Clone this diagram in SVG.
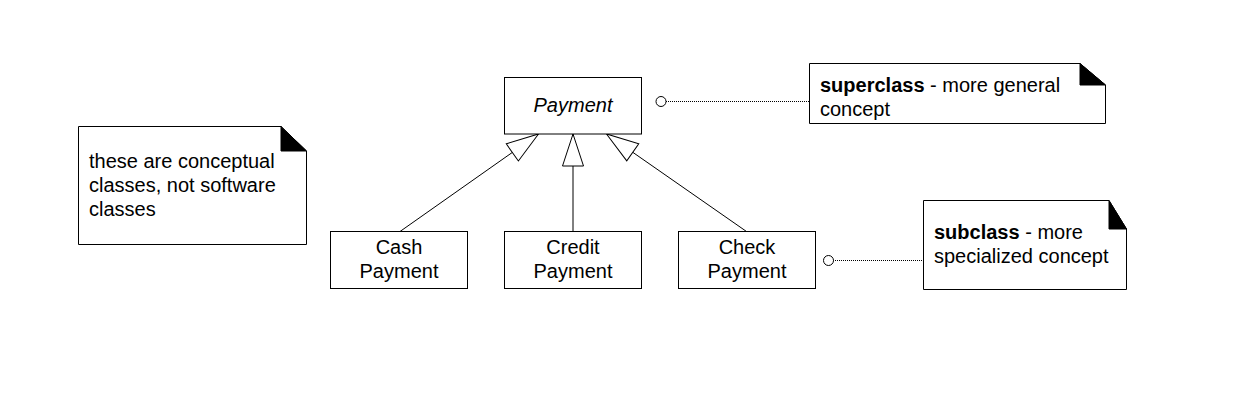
<svg xmlns="http://www.w3.org/2000/svg" width="1240" height="406" viewBox="0 0 1240 406">
<defs>
<style>
.box{fill:#fff;stroke:#000;stroke-width:1}
.t{font-family:"Liberation Sans",Arial,sans-serif;font-size:20px;fill:#000}
.c{text-anchor:middle}
.fold{fill:#000;stroke:#000;stroke-width:1}
.gen{stroke:#000;stroke-width:1;fill:none}
.dot{stroke:#000;stroke-width:1;stroke-dasharray:1 1;fill:none}
.ring{fill:#fff;stroke:#000;stroke-width:1}
</style>
<marker id="tri" markerUnits="userSpaceOnUse" viewBox="-1 -1 34 23" refX="32" refY="10.5" markerWidth="34" markerHeight="23" orient="auto" overflow="visible">
<path d="M0,0 L32,10.5 L0,21 Z" fill="#fff" stroke="#000" stroke-width="1"/>
</marker>
</defs>
<rect width="1240" height="406" fill="#fff"/>

<g id="connectors">
<line class="gen" x1="400" y1="231.5" x2="538.5" y2="134" marker-end="url(#tri)"/>
<line class="gen" x1="573" y1="231.5" x2="573" y2="134" marker-end="url(#tri)"/>
<line class="gen" x1="746.5" y1="231.5" x2="606.5" y2="134" marker-end="url(#tri)"/>
<line class="dot" x1="666" y1="101.5" x2="809" y2="101.5"/>
<circle class="ring" cx="661" cy="101.5" r="5"/>
<line class="dot" x1="833" y1="260.5" x2="924" y2="260.5"/>
<circle class="ring" cx="828.5" cy="260.5" r="5"/>
</g>

<g id="payment">
<rect class="box" x="504.5" y="77.5" width="137" height="56.5"/>
<text class="t c" x="573" y="112" font-style="italic">Payment</text>
</g>

<g id="cash-payment">
<rect class="box" x="330.5" y="231.5" width="137" height="57"/>
<text class="t c" x="399" y="254">Cash</text>
<text class="t c" x="399" y="278">Payment</text>
</g>

<g id="credit-payment">
<rect class="box" x="504.5" y="231.5" width="137" height="57"/>
<text class="t c" x="573" y="254">Credit</text>
<text class="t c" x="573" y="278">Payment</text>
</g>

<g id="check-payment">
<rect class="box" x="678.5" y="231.5" width="137" height="57"/>
<text class="t c" x="747" y="254">Check</text>
<text class="t c" x="747" y="278">Payment</text>
</g>

<g id="note-conceptual">
<polygon class="box" points="78.5,126.5 281,126.5 306.5,151 306.5,244.5 78.5,244.5"/>
<polygon class="fold" points="281,126.5 306.5,151 281,151"/>
<text class="t" x="89" y="168">these are conceptual</text>
<text class="t" x="89" y="192">classes, not software</text>
<text class="t" x="89" y="216">classes</text>
</g>

<g id="note-superclass">
<polygon class="box" points="809.5,63.5 1080,63.5 1105.5,85 1105.5,123.5 809.5,123.5"/>
<polygon class="fold" points="1080,63.5 1105.5,85 1080,85"/>
<text class="t" x="820" y="92"><tspan font-weight="bold">superclass</tspan> - more general</text>
<text class="t" x="820" y="116">concept</text>
</g>

<g id="note-subclass">
<polygon class="box" points="923.5,200.5 1109,200.5 1126.5,229 1126.5,289.5 923.5,289.5"/>
<polygon class="fold" points="1109,200.5 1126.5,229 1109,229"/>
<text class="t" x="934" y="239"><tspan font-weight="bold">subclass</tspan> - more</text>
<text class="t" x="934" y="263">specialized concept</text>
</g>
</svg>
